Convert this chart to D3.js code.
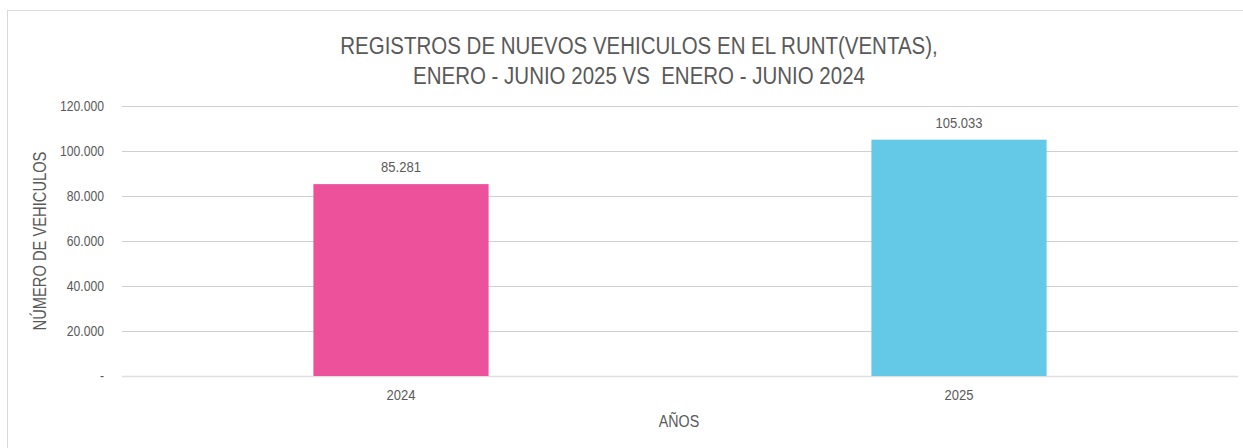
<!DOCTYPE html>
<html>
<head>
<meta charset="utf-8">
<script src="https://cdn.jsdelivr.net/npm/d3@7"></script>
<style>
  body { margin: 0; background: #fff; }
  text { font-family: "Liberation Sans Narrow", "Arial Narrow", "Liberation Sans", sans-serif; fill: #595959; white-space: pre; }
</style>
</head>
<body>
<div id="container"></div>
<script>
// data
var years = ['2024', '2025'];
var registros = [85281, 105033];
var barColors = ['#EE519C', '#63C9E7'];
var yTicks = [0, 20000, 40000, 60000, 80000, 100000, 120000];
var titleLines = ['REGISTROS DE NUEVOS VEHICULOS EN EL RUNT(VENTAS),', 'ENERO - JUNIO 2025 VS  ENERO - JUNIO 2024'];

var width = 1243, height = 448;
var plot = { left: 122, right: 1238, top: 106, bottom: 376 };
var narrow = 0.84; // fake a condensed face

var svg = d3.select('#container').append('svg')
  .attr('width', width).attr('height', height);

// chart frame
svg.append('rect')
  .attr('x', 7.5).attr('y', 10.5)
  .attr('width', 1250).attr('height', 460)
  .attr('fill', 'none').attr('stroke', '#d9d9d9');

var fmt = function(v) {
  if (v === 0) return '-';
  return d3.format(',')(v).replace(/,/g, '.');
};

function place(x, y, rot) {
  return 'translate(' + x + ',' + y + ')' + (rot ? ' rotate(' + rot + ')' : '') + ' scale(' + narrow + ',1)';
}

var x = d3.scaleBand()
  .domain(years)
  .range([plot.left, plot.right])
  .paddingInner(0.686).paddingOuter(0.343);

var y = d3.scaleLinear()
  .domain([0, 120000])
  .range([plot.bottom, plot.top]);

// gridlines
svg.append('g').selectAll('line')
  .data(yTicks)
  .enter().append('line')
  .attr('x1', plot.left).attr('x2', plot.right)
  .attr('y1', function(d) { return Math.round(y(d)) + 0.5; })
  .attr('y2', function(d) { return Math.round(y(d)) + 0.5; })
  .attr('stroke', function(d) { return d === 0 ? '#e0e0e0' : '#d0d0d0'; })
  .attr('stroke-width', function(d) { return d === 0 ? 1.5 : 1; });

// y tick labels
svg.append('g').selectAll('text')
  .data(yTicks)
  .enter().append('text')
  .attr('transform', function(d) { return place(104, y(d)); })
  .attr('dy', '0.35em')
  .attr('text-anchor', 'end')
  .attr('font-size', 14.5)
  .text(fmt);

// bars
svg.append('g').selectAll('rect')
  .data(registros)
  .enter().append('rect')
  .attr('x', function(d, i) { return x(years[i]); })
  .attr('width', x.bandwidth())
  .attr('y', function(d) { return y(d); })
  .attr('height', function(d) { return y(0) - y(d); })
  .attr('fill', function(d, i) { return barColors[i]; });

// data labels
svg.append('g').selectAll('text')
  .data(registros)
  .enter().append('text')
  .attr('transform', function(d, i) { return place(x(years[i]) + x.bandwidth() / 2, y(d) - 12); })
  .attr('text-anchor', 'middle')
  .attr('font-size', 15.5)
  .text(fmt);

// x tick labels
svg.append('g').selectAll('text')
  .data(years)
  .enter().append('text')
  .attr('transform', function(d) { return place(x(d) + x.bandwidth() / 2, 400); })
  .attr('text-anchor', 'middle')
  .attr('font-size', 15.5)
  .text(function(d) { return d; });

// axis titles
svg.append('text')
  .attr('transform', place((plot.left + plot.right) / 2 - 1, 427))
  .attr('text-anchor', 'middle')
  .attr('font-size', 17)
  .text('AÑOS');

svg.append('text')
  .attr('transform', place(46, (plot.top + plot.bottom) / 2, -90))
  .attr('text-anchor', 'middle')
  .attr('font-size', 17.5)
  .text('NÚMERO DE VEHICULOS');

// title
svg.append('g').selectAll('text')
  .data(titleLines)
  .enter().append('text')
  .attr('transform', function(d, i) { return place(639, 54 + i * 29.5); })
  .attr('text-anchor', 'middle')
  .attr('font-size', 24.4)
  .text(function(d) { return d; });
</script>
</body>
</html>
